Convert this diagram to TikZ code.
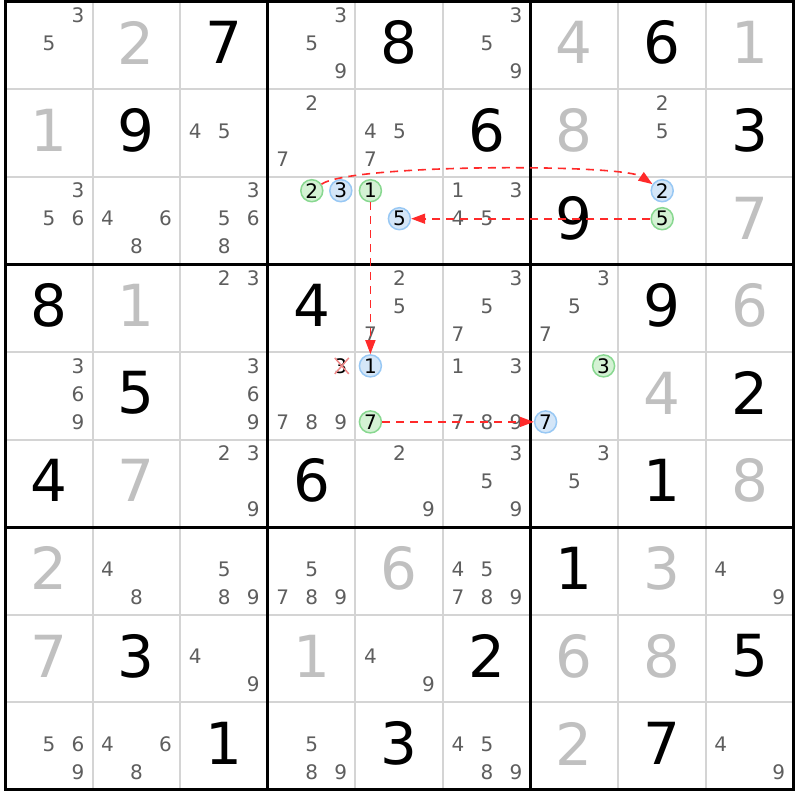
\documentclass[tikz,border=0pt]{standalone}
\usepackage{fontspec}
\setmainfont{DejaVu Sans}
\usetikzlibrary{arrows.meta,calc}
\definecolor{solved}{HTML}{C0C0C0}
\definecolor{candc}{HTML}{5E5E5E}
\definecolor{thinc}{HTML}{D4D4D4}
\definecolor{gfill}{HTML}{D4F2D4}
\definecolor{gline}{HTML}{88D890}
\definecolor{bfill}{HTML}{D4E6F8}
\definecolor{bline}{HTML}{98C8F4}
\definecolor{arrc}{HTML}{FF2A2A}
\definecolor{xc}{HTML}{F08888}
\begin{document}
\begin{tikzpicture}[x=1pt,y=-1pt,
  bigdig/.style={inner sep=0pt,font=\fontsize{58}{58}\selectfont},
  givend/.style={bigdig,text=black},
  solvedd/.style={bigdig,text=solved},
  candp/.style={inner sep=0pt,font=\fontsize{20}{20}\selectfont,text=candc},
  candx/.style={candp,text=black},
  candg/.style={candp,text=black,circle,draw=gline,fill=gfill,line width=1.5pt,minimum size=22pt},
  candb/.style={candp,text=black,circle,draw=bline,fill=bfill,line width=1.5pt,minimum size=22pt},
  thinline/.style={draw=thinc,line width=2pt},
  thickline/.style={draw=black,line width=3pt,line cap=rect},
  linkarrow/.style={draw=arrc,line width=1.6pt,dash pattern=on 8pt off 6pt,-{Triangle[length=14pt,width=10pt]}},
  xline/.style={draw=xc,line width=1.5pt}
]
\useasboundingbox (0,0) rectangle (800,800);
\fill[white] (0,0) rectangle (800,800);
% thin lines
\foreach \i in {1,2,4,5,7,8} {
  \draw[thinline] ({5+\i*87.6},1.5) -- ({5+\i*87.6},789.9);
  \draw[thinline] (5,{1.5+\i*87.6}) -- (793.4,{1.5+\i*87.6});
}
% thick lines
\foreach \i in {3,6} {
  \draw[thickline] ({5+\i*87.6},1.5) -- ({5+\i*87.6},789.9);
  \draw[thickline] (5,{1.5+\i*87.6}) -- (793.4,{1.5+\i*87.6});
}
\draw[thickline] (5,1.5) rectangle (793.4,789.9);
% big digits
\foreach \r/\c/\v/\s in {
  0/2/7/givend,0/4/8/givend,0/7/6/givend,1/1/9/givend,1/5/6/givend,1/8/3/givend,
  2/6/9/givend,3/0/8/givend,3/3/4/givend,3/7/9/givend,4/1/5/givend,4/8/2/givend,
  5/0/4/givend,5/3/6/givend,5/7/1/givend,6/6/1/givend,7/1/3/givend,7/5/2/givend,
  7/8/5/givend,8/2/1/givend,8/4/3/givend,8/7/7/givend,
  0/1/2/solvedd,0/6/4/solvedd,0/8/1/solvedd,1/0/1/solvedd,1/6/8/solvedd,2/8/7/solvedd,
  3/1/1/solvedd,3/8/6/solvedd,4/7/4/solvedd,5/1/7/solvedd,5/8/8/solvedd,6/0/2/solvedd,
  6/4/6/solvedd,6/7/3/solvedd,7/0/7/solvedd,7/3/1/solvedd,7/6/6/solvedd,7/7/8/solvedd,
  8/6/2/solvedd} {
  \node[\s] (d\r\c) at ({5+(\c+0.5)*87.6},{1.5+(\r+0.5)*87.6-2.5}) {\v};
}
% candidates
\foreach \r/\c/\v/\s in {
  0/0/3/candp,0/0/5/candp,0/3/3/candp,0/3/5/candp,0/3/9/candp,0/5/3/candp,0/5/5/candp,0/5/9/candp,
  1/2/4/candp,1/2/5/candp,1/3/2/candp,1/3/7/candp,1/4/4/candp,1/4/5/candp,1/4/7/candp,1/7/2/candp,1/7/5/candp,
  2/0/3/candp,2/0/5/candp,2/0/6/candp,2/1/4/candp,2/1/6/candp,2/1/8/candp,
  2/2/3/candp,2/2/5/candp,2/2/6/candp,2/2/8/candp,
  2/3/2/candg,2/3/3/candb,2/4/1/candg,2/4/5/candb,
  2/5/1/candp,2/5/3/candp,2/5/4/candp,2/5/5/candp,2/7/2/candb,2/7/5/candg,
  3/2/2/candp,3/2/3/candp,3/4/2/candp,3/4/5/candp,3/4/7/candp,3/5/3/candp,3/5/5/candp,3/5/7/candp,
  3/6/3/candp,3/6/5/candp,3/6/7/candp,
  4/0/3/candp,4/0/6/candp,4/0/9/candp,4/2/3/candp,4/2/6/candp,4/2/9/candp,
  4/3/3/candx,4/3/7/candp,4/3/8/candp,4/3/9/candp,4/4/1/candb,4/4/7/candg,
  4/5/1/candp,4/5/3/candp,4/5/7/candp,4/5/8/candp,4/5/9/candp,4/6/3/candg,4/6/7/candb,
  5/2/2/candp,5/2/3/candp,5/2/9/candp,5/4/2/candp,5/4/9/candp,5/5/3/candp,5/5/5/candp,5/5/9/candp,
  5/6/3/candp,5/6/5/candp,
  6/1/4/candp,6/1/8/candp,6/2/5/candp,6/2/8/candp,6/2/9/candp,6/3/5/candp,6/3/7/candp,6/3/8/candp,6/3/9/candp,
  6/5/4/candp,6/5/5/candp,6/5/7/candp,6/5/8/candp,6/5/9/candp,6/8/4/candp,6/8/9/candp,
  7/2/4/candp,7/2/9/candp,7/4/4/candp,7/4/9/candp,
  8/0/5/candp,8/0/6/candp,8/0/9/candp,8/1/4/candp,8/1/6/candp,8/1/8/candp,8/3/5/candp,8/3/8/candp,8/3/9/candp,
  8/5/4/candp,8/5/5/candp,8/5/8/candp,8/5/9/candp,8/8/4/candp,8/8/9/candp} {
  \pgfmathsetmacro\cx{5+\c*87.6+44+(mod(\v-1,3)-1)*29}
  \pgfmathsetmacro\cy{1.5+\r*87.6+42+(div(\v-1,3)-1)*28}
  \node[\s] (k\r\c\v) at (\cx,\cy) {\v};
}
% eliminated candidate
\draw[xline] ($(k433)+(-6,-8)$) -- ($(k433)+(8,8)$);
\draw[xline] ($(k433)+(-6,8)$) -- ($(k433)+(8,-8)$);
% links
\draw[linkarrow] (k232) .. controls +(40,-27) and +(-40,-27) .. (k272);
\draw[linkarrow] (k275) -- (k245);
\draw[linkarrow] (k241) -- (k441);
\draw[linkarrow] (k447) -- (k467);
\end{tikzpicture}
\end{document}
